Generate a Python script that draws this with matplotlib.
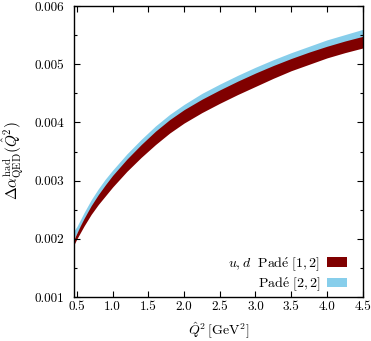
import matplotlib
matplotlib.use('Agg')
import matplotlib.pyplot as plt
from matplotlib.ticker import MultipleLocator, FormatStrFormatter

plt.rcParams['font.family'] = 'serif'
plt.rcParams['font.serif'] = ['cmr10']
plt.rcParams['mathtext.fontset'] = 'cm'
plt.rcParams['axes.unicode_minus'] = False

# Q^2 grid [GeV^2] and band edges
q2 = [0.46, 0.5, 0.55, 0.6, 0.7, 0.8, 0.9, 1.0, 1.2, 1.4, 1.6, 1.8, 2.0,
      2.25, 2.5, 2.75, 3.0, 3.25, 3.5, 3.75, 4.0, 4.25, 4.5]

# u,d Pade [1,2]
pade12_hi = [0.00199, 0.00210, 0.00223, 0.00235, 0.00257, 0.00276, 0.00293, 0.00309,
             0.00337, 0.00362, 0.00385, 0.00405, 0.00422, 0.00440, 0.00456, 0.00471,
             0.00485, 0.00498, 0.00510, 0.00521, 0.00531, 0.00540, 0.00548]
pade12_lo = [0.00190, 0.00200, 0.00211, 0.00222, 0.00242, 0.00259, 0.00274, 0.00289,
             0.00316, 0.00340, 0.00362, 0.00382, 0.00399, 0.00417, 0.00433, 0.00448,
             0.00462, 0.00476, 0.00489, 0.00500, 0.00511, 0.00520, 0.00528]

# Pade [2,2]
pade22_hi = [0.00214, 0.00221, 0.00233, 0.00245, 0.00267, 0.00286, 0.00303, 0.00318,
             0.00346, 0.00371, 0.00394, 0.00414, 0.00431, 0.00450, 0.00466, 0.00481,
             0.00495, 0.00508, 0.00520, 0.00531, 0.00542, 0.00551, 0.00560]
pade22_lo = [0.00200, 0.00210, 0.00221, 0.00232, 0.00252, 0.00269, 0.00284, 0.00299,
             0.00326, 0.00350, 0.00372, 0.00392, 0.00409, 0.00427, 0.00443, 0.00458,
             0.00472, 0.00486, 0.00499, 0.00510, 0.00521, 0.00530, 0.00538]

labels = [r'$u,d\ \ \mathrm{Pad\acute{e}\ [1,2]}$', r'$\mathrm{Pad\acute{e}\ [2,2]}$']

fig = plt.figure(figsize=(3.71, 3.41), dpi=100)
ax = fig.add_axes([0.1995, 0.129, 0.778, 0.853])

# blue band first, red band on top
ax.fill_between(q2, pade22_lo, pade22_hi, color='#87ceeb', lw=0, label=labels[1])
ax.fill_between(q2, pade12_lo, pade12_hi, color='#800000', lw=0, label=labels[0])

ax.set_xlim(0.46, 4.5)
ax.set_ylim(0.001, 0.006)
ax.xaxis.set_major_locator(MultipleLocator(0.5))
ax.yaxis.set_major_locator(MultipleLocator(0.001))
ax.yaxis.set_minor_locator(MultipleLocator(0.0005))
ax.xaxis.set_major_formatter(FormatStrFormatter('%.1f'))
ax.yaxis.set_major_formatter(FormatStrFormatter('%.3f'))
ax.tick_params(which='both', direction='in', top=True, right=True, labelsize=9.5, colors='black')
ax.tick_params(which='major', length=4, width=0.8)
ax.tick_params(which='minor', length=2.5, width=0.8)
ax.tick_params(axis='x', pad=3)
ax.tick_params(axis='y', pad=7)
for s in ax.spines.values():
    s.set_linewidth(1.0)

ax.set_xlabel(r'$\hat{Q}^2\,[\mathrm{GeV}^2]$', fontsize=10, labelpad=5)
ax.set_ylabel(r'$\Delta\alpha^{\rm had}_{\rm QED}(\hat{Q}^2)$', fontsize=11)
ax.yaxis.set_label_coords(-0.165, 0.47)

h, l = ax.get_legend_handles_labels()
ax.legend(h[::-1], l[::-1], loc='lower right', markerfirst=False, frameon=False,
          fontsize=10, handlelength=1.4, handleheight=0.7, handletextpad=0.5,
          labelspacing=0.2, borderpad=0, borderaxespad=0,
          bbox_to_anchor=(0.945, 0.013))

fig.savefig('out.png', dpi=100)
